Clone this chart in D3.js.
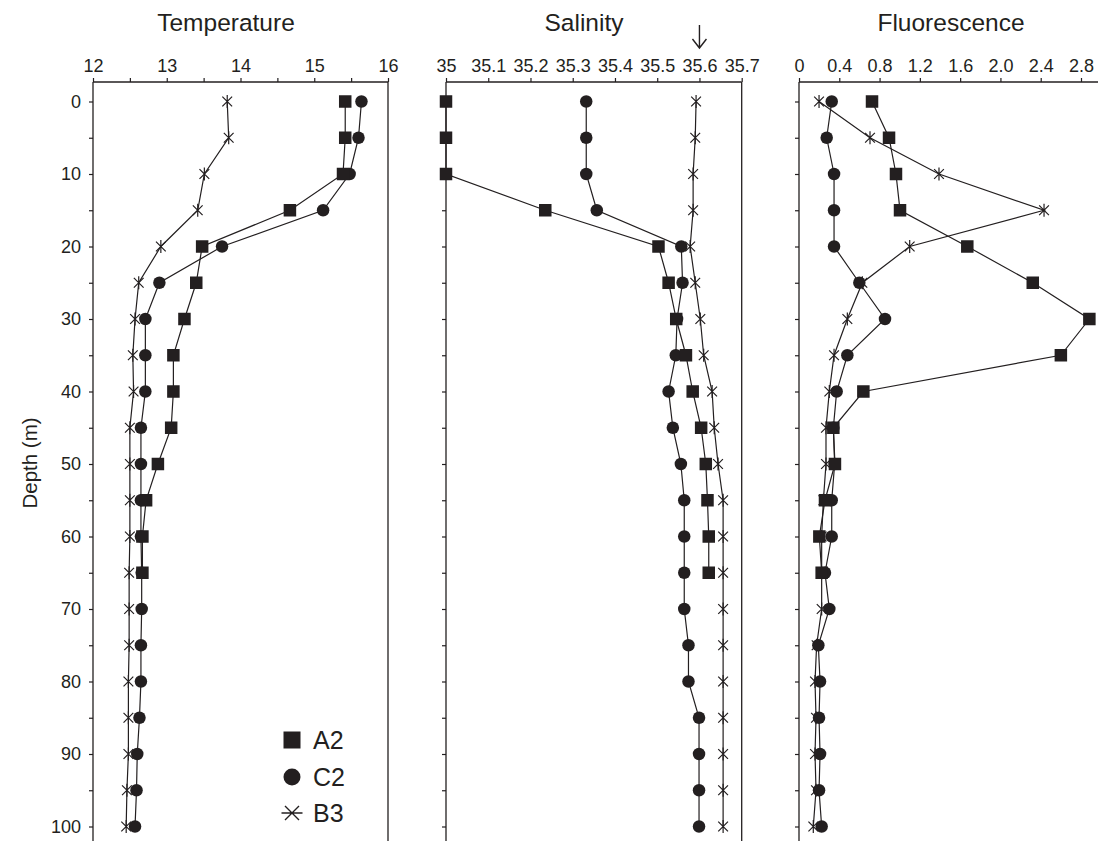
<!DOCTYPE html>
<html>
<head>
<meta charset="utf-8">
<script src="https://cdn.jsdelivr.net/npm/d3@7"></script>
<style>
  html, body { margin: 0; padding: 0; background: #fff; }
  svg { display: block; }
  text { font-family: "Liberation Sans", Arial, Helvetica, sans-serif; fill: #231f20; }
</style>
</head>
<body>
<svg id="chart" width="1098" height="841"></svg>
<script>
// ---------- data ----------
const depthAll = [0,5,10,15,20,25,30,35,40,45,50,55,60,65,70,75,80,85,90,95,100];
const depthA2  = [0,5,10,15,20,25,30,35,40,45,50,55,60,65];

const tempA2 = [15.42,15.42,15.39,14.67,13.48,13.40,13.24,13.09,13.09,13.06,12.88,12.72,12.67,12.67];
const tempC2 = [15.64,15.60,15.48,15.12,13.75,12.90,12.71,12.71,12.71,12.65,12.65,12.65,12.65,12.66,12.66,12.65,12.65,12.63,12.60,12.59,12.57];
const tempB3 = [13.82,13.84,13.51,13.42,12.92,12.62,12.57,12.54,12.55,12.50,12.50,12.50,12.50,12.49,12.49,12.49,12.48,12.48,12.48,12.46,12.45];

const salA2 = [35.00,35.00,35.00,35.235,35.503,35.527,35.545,35.568,35.584,35.604,35.615,35.619,35.622,35.622];
const salC2 = [35.332,35.332,35.332,35.357,35.557,35.560,35.547,35.544,35.527,35.537,35.556,35.564,35.564,35.564,35.564,35.574,35.574,35.599,35.599,35.599,35.599];
const salB3 = [35.592,35.590,35.585,35.585,35.578,35.590,35.602,35.610,35.630,35.635,35.644,35.656,35.656,35.656,35.656,35.656,35.656,35.656,35.656,35.656,35.656];

const fluA2 = [0.725,0.894,0.963,1.003,1.671,2.321,2.883,2.600,0.639,0.341,0.357,0.258,0.202,0.225];
const fluC2 = [0.325,0.275,0.348,0.348,0.348,0.599,0.854,0.480,0.374,0.341,0.354,0.325,0.325,0.258,0.301,0.192,0.209,0.199,0.209,0.199,0.225];
const fluB3 = [0.199,0.705,1.390,2.433,1.099,0.629,0.480,0.348,0.301,0.268,0.268,0.242,0.225,0.225,0.225,0.175,0.159,0.169,0.159,0.169,0.142];

const tempTicks = [12,12.5,13,13.5,14,14.5,15,15.5,16];
const tempLabels = [12,13,14,15,16];
const salTicks = [35,35.1,35.2,35.3,35.4,35.5,35.6,35.7];
const fluTicks = [0,0.4,0.8,1.2,1.6,2.0,2.4,2.8];
const depthTicks = [0,5,10,15,20,25,30,35,40,45,50,55,60,65,70,75,80,85,90,95,100];
const depthLabels = [0,10,20,30,40,50,60,70,80,90,100];

const panelTitles = ["Temperature","Salinity","Fluorescence"];
const seriesNames = ["A2","C2","B3"];
const salinityMark = 35.6;

// ---------- layout ----------
const INK = "#231f20";
const W = 1098, H = 841;
const axisTop = 82;
const svg = d3.select("#chart");

const y = d3.scaleLinear().domain([0,100]).range([101.5, 826.5]);

const panels = [
  { title: panelTitles[0], x: d3.scaleLinear().domain([12,16]).range([93,388]),
    ticks: tempTicks, fmt: d => tempLabels.includes(d) ? String(d) : "",
    series: [tempA2, tempC2, tempB3], depthLabel: true, rightBorder: true, lineEnd: 388, titleX: 226 },
  { title: panelTitles[1], x: d3.scaleLinear().domain([35,35.7]).range([446,741.7]),
    ticks: salTicks, fmt: d => (d === 35 ? "35" : d3.format(".1f")(d)),
    series: [salA2, salC2, salB3], depthLabel: false, rightBorder: true, lineEnd: 741.7, titleX: 584 },
  { title: panelTitles[2], x: d3.scaleLinear().domain([0,2.8]).range([799,1081]),
    ticks: fluTicks, fmt: d => (d === 0 ? "0" : d3.format(".1f")(d)),
    series: [fluA2, fluC2, fluB3], depthLabel: false, rightBorder: false, lineEnd: 1098, titleX: 951 }
];

function drawMarker(g, type, cx, cy, s) {
  if (type === 0) {
    g.append("rect").attr("x", cx - s/2).attr("y", cy - s/2).attr("width", s).attr("height", s)
      .attr("fill", INK);
  } else if (type === 1) {
    g.append("circle").attr("cx", cx).attr("cy", cy).attr("r", s/2).attr("fill", INK);
  } else {
    const r = s/2;
    const a = r * 0.75;
    g.append("path")
      .attr("d", `M${cx-a},${cy-a}L${cx+a},${cy+a}M${cx-a},${cy+a}L${cx+a},${cy-a}M${cx},${cy-r}L${cx},${cy+r}`)
      .attr("stroke", INK).attr("stroke-width", 1.2).attr("fill", "none");
  }
}

panels.forEach(p => {
  const g = svg.append("g");
  const x0 = p.x.range()[0];

  // top axis
  const ax = d3.axisTop(p.x).tickValues(p.ticks).tickFormat(p.fmt).tickSize(4).tickPadding(6).tickSizeOuter(0);
  const axg = g.append("g").attr("transform", `translate(0,${axisTop})`).call(ax);
  axg.select(".domain").remove();
  axg.selectAll(".tick line").attr("stroke", INK).attr("stroke-width", 1.2);
  axg.selectAll(".tick text").style("font-size", "18px").attr("fill", INK);
  g.append("line").attr("x1", x0).attr("x2", p.lineEnd).attr("y1", axisTop).attr("y2", axisTop)
    .attr("stroke", INK).attr("stroke-width", 1.3);

  // left axis
  const ay = d3.axisLeft(y).tickValues(depthTicks)
    .tickFormat(d => p.depthLabel && depthLabels.includes(d) ? String(d) : "")
    .tickSize(4).tickPadding(8).tickSizeOuter(0);
  const ayg = g.append("g").attr("transform", `translate(${x0},0)`).call(ay);
  ayg.select(".domain").remove();
  ayg.selectAll(".tick line").attr("stroke", INK).attr("stroke-width", 1.2);
  ayg.selectAll(".tick text").style("font-size", "18px").attr("fill", INK);
  g.append("line").attr("x1", x0).attr("x2", x0).attr("y1", axisTop).attr("y2", H)
    .attr("stroke", INK).attr("stroke-width", 1.3);

  if (p.rightBorder) {
    const xr = p.x.range()[1];
    g.append("line").attr("x1", xr).attr("x2", xr).attr("y1", axisTop).attr("y2", H)
      .attr("stroke", INK).attr("stroke-width", 1.3);
  }

  // title
  g.append("text").attr("x", p.titleX).attr("y", 31).attr("text-anchor", "middle")
    .style("font-size", "24.5px").text(p.title);

  // series lines
  p.series.forEach((vals, si) => {
    const ds = vals.length === depthA2.length ? depthA2 : depthAll;
    const pts = vals.map((v, i) => [p.x(v), y(ds[i])]);
    g.append("path").attr("d", d3.line()(pts)).attr("fill", "none")
      .attr("stroke", INK).attr("stroke-width", 1.2);
  });
  // markers (B3 first, then C2, then A2 on top)
  [2,1,0].forEach(si => {
    const vals = p.series[si];
    const ds = vals.length === depthA2.length ? depthA2 : depthAll;
    vals.forEach((v, i) => drawMarker(g, si, p.x(v), y(ds[i]), si === 2 ? 13 : 12.5));
  });
});

// arrow above 35.6 salinity
{
  const ax = panels[1].x(salinityMark);
  svg.append("path").attr("d", `M${ax},25L${ax},48M${ax-7},39L${ax},48L${ax+7},39`)
    .attr("fill", "none").attr("stroke", INK).attr("stroke-width", 1.4);
}

// Y axis title
svg.append("text").attr("transform", "translate(37,463) rotate(-90)").attr("text-anchor", "middle")
  .style("font-size", "20.5px").text("Depth (m)");

// legend
const legend = svg.append("g");
const legY = [740, 777, 813];
seriesNames.forEach((n, i) => {
  const cx = 292, cy = legY[i];
  if (i === 2) {
    const r = 10.5, a = 7;
    legend.append("path")
      .attr("d", `M${cx-a},${cy-a}L${cx+a},${cy+a}M${cx-a},${cy+a}L${cx+a},${cy-a}M${cx-r},${cy}L${cx+r},${cy}`)
      .attr("stroke", INK).attr("stroke-width", 1.4).attr("fill", "none");
  } else {
    drawMarker(legend, i, cx, cy, 17);
  }
  legend.append("text").attr("x", 313).attr("y", cy + 9).style("font-size", "25px").text(n);
});
</script>
</body>
</html>
